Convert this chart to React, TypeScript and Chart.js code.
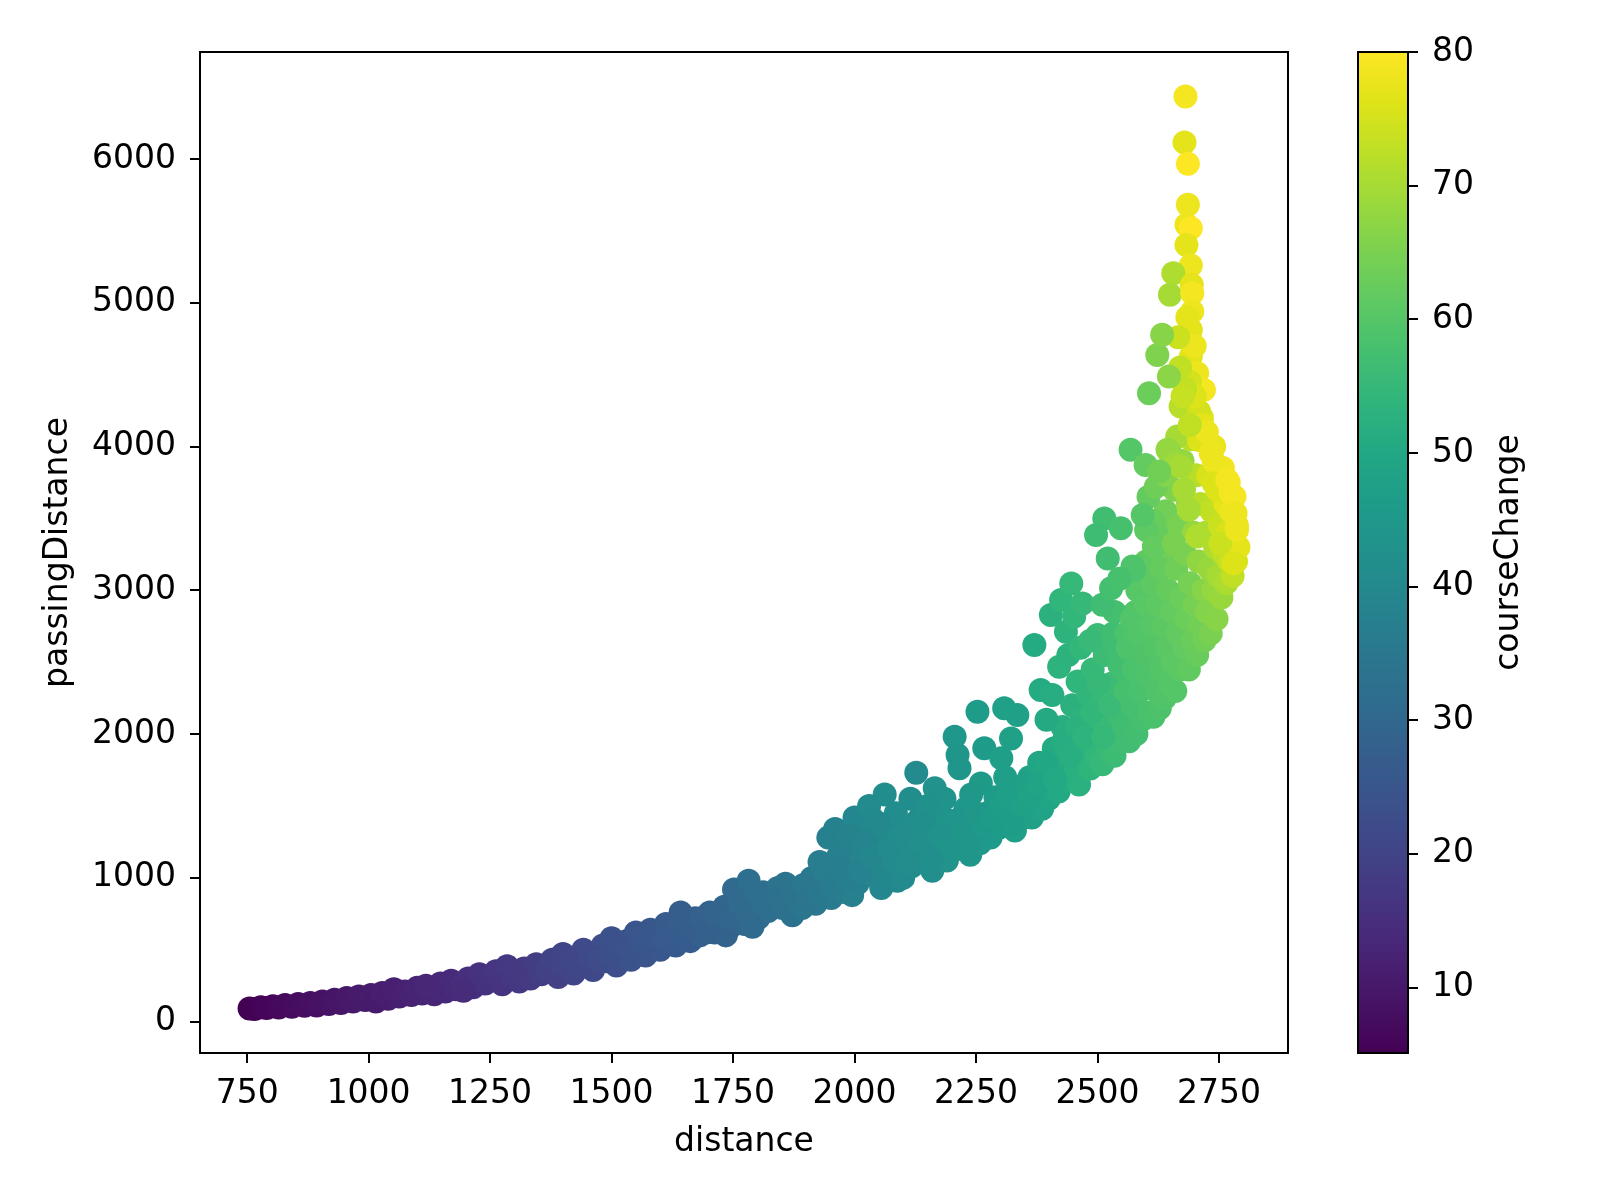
import { useEffect, useRef } from "react"
import Chart from "chart.js/auto"

// values
const distance = [
  755, 765, 778, 790, 803, 815, 828, 842, 855, 868,
  880, 893, 905, 918, 930, 943, 955, 968, 980, 993,
  1005, 1015, 1028, 1040, 1052, 1063, 1075, 1088, 1100, 1110,
  1122, 1135, 1148, 1158, 1170, 1180, 1192, 1205, 1215, 1228,
  1240, 1252, 1262, 1275, 1285, 1296, 1310, 1320, 1333, 1345,
  1355, 1118, 1195, 1300,
  1368, 1378, 1390, 1400, 1410, 1422, 1430, 1442, 1450, 1462,
  1470, 1482, 1490, 1500, 1510, 1520, 1530, 1540, 1550, 1560,
  1570, 1580, 1590, 1600, 1612, 1622, 1632, 1642, 1652, 1662,
  1672, 1682, 1692, 1702, 1712, 1722, 1732, 1742, 1752, 1762,
  1772, 1782, 1792, 1802, 1480, 1575, 1655, 1725,
  1812, 1822, 1832, 1842, 1852, 1862, 1872, 1882, 1892, 1902,
  1912, 1920, 1928, 1936, 1946, 1952, 1960, 1966, 1976, 1982,
  1990, 2000, 2006, 2016, 2030, 2036, 2046, 2062, 2066, 2076,
  2088, 2096, 1995, 2025, 1890, 2055, 2100, 1858, 1735, 1790,
  2108, 2118, 2127, 2130, 2140, 2150, 2160, 2165, 2172, 2182,
  2190, 2200, 2206, 2212, 2216, 2220, 2228, 2238, 2246, 2253,
  2258, 2260, 2267, 2272, 2280, 2290, 2298, 2308, 2310, 2318,
  2322, 2330, 2335, 2340, 2348, 2302, 2185, 2240, 2115, 2150,
  1987, 1966, 2040, 2085, 2120,
  2355, 2360, 2365, 2370, 2372, 2380, 2383, 2386, 2392, 2400,
  2404, 2407, 2410, 2415, 2420, 2421, 2425, 2428, 2432, 2435,
  2438, 2446, 2448, 2450, 2452, 2455, 2459, 2462, 2469, 2470,
  2475, 2480, 2485, 2490, 2492, 2498, 2500, 2505, 2510, 2515,
  2518, 2522, 2528, 2532, 2535, 2540, 2545, 2548, 2350, 2395,
  2440, 2465, 2535, 2510, 2485,
  1395, 1415, 1435, 1455, 1475, 1495, 1515, 1535, 1555, 1565,
  1585, 1605, 1615, 1635, 1645, 1665, 1685, 1695, 1715, 1745,
  1765, 1780, 1795, 1810,
  1845, 1870, 1895, 1905, 1925, 1940, 1955, 1970, 1985, 2010,
  2020, 2035, 2050, 2058, 2070, 2082, 2092, 2105, 2135, 2145,
  2158, 2175, 2195, 2210, 2225, 2235, 2250, 2265, 2285, 2300,
  2315, 2325, 2345,
  2360, 2378, 2395, 2412, 2430, 2445, 2458, 2472, 2488, 2502,
  2512, 2525, 2538, 2552, 2560, 2578, 2590, 2608, 2626, 2636,
  2555, 2558, 2562, 2565, 2570, 2572, 2575, 2580, 2582, 2585,
  2588, 2592, 2595, 2598, 2600, 2603, 2606, 2610, 2612, 2615,
  2618, 2620, 2622, 2625, 2628, 2630, 2632, 2635, 2638, 2640,
  2642, 2645, 2648, 2650, 2652, 2655, 2658, 2660, 2662, 2665,
  2668, 2670, 2672, 2675, 2678, 2680, 2683, 2686, 2688, 2690,
  2692, 2695, 2698, 2700, 2703, 2705, 2708, 2710, 2712, 2715,
  2718, 2720, 2722, 2725, 2728, 2730, 2733, 2735, 2738, 2740,
  2742, 2745, 2748, 2750, 2752, 2755, 2758, 2760, 2763, 2765,
  2768, 2770, 2772, 2775, 2778, 2780, 2782, 2785, 2787, 2790,
  2681, 2679, 2686, 2686, 2683, 2692, 2683, 2692, 2656, 2649,
  2694, 2695, 2695, 2692, 2692, 2705, 2719, 2671, 2709, 2664,
  2709, 2685, 2700, 2690, 2700, 2715, 2725, 2690, 2680, 2666,
  2670, 2675,
  2605, 2620, 2640, 2650, 2615, 2600, 2644, 2660, 2671, 2678,
  2688, 2705, 2753, 2733, 2739, 2739, 2746, 2767, 2774, 2784,
  2787, 2780, 2593, 2576, 2528, 2514, 2548, 2497, 2521, 2568,
  2599, 2627, 2616, 2572, 2657, 2606, 2623, 2633, 2647, 2545,
]

const passingDistance = [
  92, 88, 100, 95, 108, 98, 115, 104, 122, 110,
  130, 112, 140, 122, 152, 130, 165, 140, 175, 150,
  185, 140, 200, 160, 225, 175, 210, 185, 235, 195,
  220, 190, 265, 210, 285, 225, 255, 300, 240, 330,
  265, 300, 350, 260, 385, 310, 280, 370, 300, 400,
  330, 250, 215, 350,
  365, 430, 310, 470, 380, 335, 450, 500, 400, 360,
  480, 530, 420, 580, 390, 480, 560, 430, 620, 510,
  460, 640, 555, 500, 680, 600, 530, 760, 640, 560,
  720, 600, 680, 760, 620, 700, 800, 650, 920, 740,
  680, 980, 820, 720, 450, 560, 700, 630,
  900, 770, 860, 930, 790, 880, 740, 840, 790, 900,
  1000, 820, 1110, 950, 1280, 860, 1340, 1010, 1200, 900,
  1060, 1420, 960, 1140, 1500, 1020, 1260, 1580, 1080, 1350,
  980, 1200, 880, 1300, 870, 930, 1000, 960, 600, 660,
  1250, 1080, 1731, 1400, 1150, 1300, 1050, 1623, 1200, 1420,
  1120, 1310, 1982, 1854, 1762, 1200, 1480, 1160, 1360, 2156,
  1240, 1657, 1901, 1450, 1280, 1560, 1350, 2179, 1700, 1440,
  1970, 1330, 2132, 1600, 1420, 1832, 1550, 1580, 1550, 1500,
  1290, 1147, 1400, 1450, 1350,
  1500, 1700, 1420, 2619, 1600, 1800, 2306, 1480, 1680, 1550,
  2828, 2272, 1900, 1750, 1600, 2469, 2933, 2050, 1850, 2712,
  1680, 3048, 2200, 1980, 2817, 1760, 2365, 1650, 2909, 2100,
  1880, 2280, 1760, 2450, 2000, 1850, 2689, 2200, 1790, 2550,
  2050, 1900, 2350, 2700, 1850, 2150, 2480, 1950, 1650, 2100,
  2550, 2600, 2850, 2900, 2650,
  400, 430, 390, 450, 430, 470, 520, 500, 560, 600,
  600, 580, 620, 680, 590, 650, 720, 620, 750, 720,
  820, 760, 900, 820,
  860, 900, 950, 840, 900, 1050, 940, 1080, 980, 1050,
  1250, 1150, 1380, 1050, 1220, 1120, 1300, 1100, 1250, 1380,
  1150, 1300, 1220, 1400, 1300, 1250, 1450, 1350, 1420, 1500,
  1560, 1380, 1500,
  1560, 1650, 1800, 1680, 1950, 1850, 2050, 1980, 2150, 2350,
  1980, 2200, 2600, 2450, 2700, 2850, 3100, 2950, 3300, 3450,
  2050, 2300, 2600, 1950, 2800, 2200, 2450, 2000, 3000, 2700,
  2300, 2100, 2550, 2900, 3200, 2400, 2150, 2750, 3050, 2120,
  2600, 3400, 2300, 2900, 2180, 2450, 3150, 2750, 2250, 3550,
  2600, 3000, 2350, 3300, 2850, 2500, 3700, 2300, 3150, 2700,
  3450, 2450, 2950, 3900, 2600, 3250, 2800, 3600, 2450, 3050,
  4050, 2650, 3400, 2900, 3800, 2550, 3200, 2750, 3600, 4200,
  3000, 2650, 3400, 2850, 3800, 3150, 2700, 3550, 3000, 4000,
  3300, 2800, 3700, 3100, 3450, 2950, 3850, 3250, 3600, 3050,
  3400, 3750, 3200, 3550, 3100, 3350, 3650, 3200, 3450, 3300,
  6434, 6114, 5966, 5681, 5542, 5518, 5402, 5259, 5205, 5055,
  5124, 5066, 4939, 4811, 4626, 4510, 4394, 4278, 4243, 4069,
  4046, 4900, 4700, 4450, 4350, 4150, 4100, 4150, 4400, 4760,
  4550, 4350,
  3650, 3720, 3800, 3950, 3480, 3420, 3977, 3880, 3860, 3699,
  3560, 3374, 3328, 3954, 3896, 3745, 3699, 3768, 3676, 3536,
  3420, 3189, 3524, 3141, 3014, 3500, 3431, 3385, 3222, 3977,
  3872, 3826, 3305, 3166, 3328, 4371, 4637, 4777, 4487, 3080,
]

const courseChange = [
  5.1, 5.3, 5.6, 5.9, 6.2, 6.5, 6.9, 7.1, 7.5, 7.7,
  8.1, 8.3, 8.7, 8.9, 9.3, 9.5, 9.9, 10.1, 10.4, 10.6,
  10.8, 10.6, 11.2, 11.1, 11.7, 11.6, 12, 12.1, 12.6, 12.5,
  12.9, 13, 13.8, 13.6, 14.3, 14.1, 14.6, 15.2, 14.9, 15.8,
  15.6, 16.2, 16.6, 16.3, 17.3, 17, 17.2, 17.9, 17.9, 18.7,
  18.6, 13.2, 14.4, 17.4,
  19.3, 19.8, 19.4, 20.4, 20.3, 20.4, 21.2, 21.8, 21.4, 21.5,
  22.3, 22.8, 22.5, 23.6, 22.9, 23.6, 24.2, 23.8, 24.8, 24.6,
  24.6, 25.6, 25.3, 25.3, 26.4, 26.2, 26.1, 27.4, 27, 26.8,
  27.8, 27.6, 28.1, 28.7, 28.3, 28.9, 29.6, 29.2, 30.8, 30.1,
  30.2, 31.9, 31.3, 31.2, 22.3, 25.1, 27.3, 28.8,
  32.2, 31.9, 32.5, 33.1, 32.8, 33.4, 33.2, 33.9, 34, 34.8,
  35.6, 34.8, 36.5, 35.8, 37.5, 35.8, 38, 37, 37.8, 36.8,
  37.8, 39.5, 37.8, 38.8, 40.5, 38.8, 39.8, 41.5, 39.8, 40.8,
  40.2, 41, 37.5, 39.6, 34.3, 39.3, 40.6, 33.9, 28.8, 30.8,
  41.3, 41.2, 40.5, 41.8, 41.8, 42.3, 42, 42.8, 42.6, 43.3,
  43, 43.6, 44.5, 44.3, 44.2, 44, 44.6, 44.3, 44.9, 46,
  45, 45.7, 46.3, 45.8, 45.6, 46.4, 46.2, 47.5, 47, 46.8,
  47.5, 46.8, 47.8, 47.5, 47.4, 47.2, 43.5, 45, 41.5, 42.5,
  38.5, 37.5, 40.2, 41.3, 41.6,
  47.8, 48.3, 47.8, 51, 48.5, 49.2, 51, 48.6, 49.3, 49.3,
  53, 51.5, 50.6, 50.4, 50.2, 53.5, 54, 51.8, 51.4, 53.5,
  51.3, 55, 52.8, 52.5, 54.5, 52.4, 54, 52.6, 55, 53.6,
  53.4, 54.2, 53.8, 55, 54.4, 54.5, 56, 55.2, 55, 56.2,
  55.6, 55.6, 56.3, 57, 56.1, 56.6, 57.2, 56.8, 48, 50.5,
  53.3, 54.5, 57.5, 56.8, 55.5,
  20, 20.6, 21, 21.7, 22.1, 22.9, 23.6, 23.9, 24.8, 25.3,
  25.5, 25.9, 26.3, 27, 26.8, 27.4, 28.2, 28, 29, 29.6,
  30.6, 30.9, 32, 32,
  33, 33.8, 34.8, 34.5, 35.2, 36.5, 36.2, 37.4, 37.4, 38.3,
  39.2, 39.3, 40.3, 39.6, 40.4, 40.5, 41.1, 41, 41.9, 42.3,
  42.2, 42.9, 43.3, 44, 44.2, 44.3, 45, 45.3, 45.9, 46.5,
  47, 46.7, 47.5,
  48.2, 48.9, 49.8, 50.2, 51.5, 51.9, 52.9, 53.4, 54.3, 55.2,
  55.1, 55.8, 57, 57.3, 58.6, 59.6, 60.8, 60.8, 62.5, 63.2,
  57, 58, 59, 56.8, 59.5, 57.8, 58.5, 57.3, 60.3, 59.6,
  58.3, 57.8, 59.2, 60.4, 61.4, 58.9, 58.3, 60.2, 61.3, 58.3,
  59.9, 62.4, 59.2, 61.2, 58.8, 59.9, 62.2, 61, 59.4, 63.8,
  60.7, 62.3, 60, 63.6, 62, 60.8, 65.5, 60, 63.5, 61.8,
  64.8, 61, 63, 68, 61.8, 65, 63, 69, 61.6, 64.5,
  72, 62.8, 68, 64.5, 72, 62.5, 67.5, 64, 72, 77,
  66.5, 64, 70.5, 66, 75.5, 68.5, 65, 73, 68, 77.5,
  71, 66.5, 76, 70, 74, 68.5, 78.5, 72.5, 77, 70.5,
  75.5, 78.5, 73.5, 78, 73, 76.5, 79, 75.5, 77.5, 77,
  79, 77, 80, 78, 78, 80, 77, 78, 71, 70,
  77, 79, 78, 77, 77, 78, 79, 72, 75, 70,
  76, 77, 78, 75, 76, 77, 78, 73, 73, 74,
  73, 73.5,
  62, 63.5, 66, 67.5, 62.5, 61.2, 68, 69, 70, 70,
  70, 71, 74, 78, 78, 76, 76, 79, 79, 78,
  78, 76, 60, 59, 57.5, 57, 58, 56.5, 57, 60,
  62, 64, 62, 59, 65, 63, 65.5, 66.5, 67, 58,
]

const xTicks = [750, 1000, 1250, 1500, 1750, 2000, 2250, 2500, 2750]
const yTicks = [0, 1000, 2000, 3000, 4000, 5000, 6000]
const colorTicks = [10, 20, 30, 40, 50, 60, 70, 80]
const colorMin = 5.1
const colorMax = 80

const viridisStops = [
  "#440154", "#471365", "#482475", "#463480", "#414487", "#3b528b", "#355f8d",
  "#2f6c8e", "#2a788e", "#25848e", "#21918c", "#1e9c89", "#22a884", "#2fb47c",
  "#44bf70", "#5ec962", "#7ad151", "#9bd93c", "#bddf26", "#dfe318", "#fde725",
]

const fontFamily = "'DejaVu Sans', sans-serif"
const fontSize = 33

function hexToRgb(hex: string) {
  const n = parseInt(hex.slice(1), 16)
  return [(n >> 16) & 255, (n >> 8) & 255, n & 255]
}

function viridis(value: number) {
  const t = Math.min(1, Math.max(0, (value - colorMin) / (colorMax - colorMin)))
  const pos = t * (viridisStops.length - 1)
  const i = Math.min(viridisStops.length - 2, Math.floor(pos))
  const f = pos - i
  const a = hexToRgb(viridisStops[i])
  const b = hexToRgb(viridisStops[i + 1])
  const c = a.map((v, k) => Math.round(v + (b[k] - v) * f))
  return `rgb(${c[0]}, ${c[1]}, ${c[2]})`
}

const framePlugin = {
  id: "frame",
  afterDraw(chart: any) {
    const { ctx, chartArea: a } = chart
    ctx.save()
    ctx.strokeStyle = "#000"
    ctx.lineWidth = 2
    ctx.strokeRect(a.left, a.top, a.right - a.left, a.bottom - a.top)
    ctx.restore()
  },
}

const colorbarPlugin = {
  id: "colorbar",
  afterDraw(chart: any) {
    const { ctx, chartArea: a, scales } = chart
    ctx.save()
    for (let y = Math.floor(a.top); y < a.bottom; y++) {
      ctx.fillStyle = viridis(scales.y.getValueForPixel(y + 0.5))
      ctx.fillRect(a.left, y, a.right - a.left, 1)
    }
    ctx.strokeStyle = "#000"
    ctx.lineWidth = 2
    ctx.strokeRect(a.left, a.top, a.right - a.left, a.bottom - a.top)
    // colorbar label, reading bottom to top
    ctx.translate(209, (a.top + a.bottom) / 2)
    ctx.rotate(-Math.PI / 2)
    ctx.fillStyle = "#000"
    ctx.font = `${fontSize}px ${fontFamily}`
    ctx.textAlign = "center"
    ctx.textBaseline = "middle"
    ctx.fillText("courseChange", 0, 0)
    ctx.restore()
  },
}

const tickGrid = { drawOnChartArea: false, color: "#000", lineWidth: 2, tickLength: 10 }
const tickFont = { family: fontFamily, size: fontSize }

function ScatterPlot() {
  const chartRef = useRef<HTMLCanvasElement>(null)

  useEffect(() => {
    if (!chartRef.current) return
    const chart = new Chart(chartRef.current, {
      type: "scatter",
      data: {
        datasets: [
          {
            data: distance.map((d, i) => ({ x: d, y: passingDistance[i] })),
            pointBackgroundColor: courseChange.map(viridis),
            pointBorderWidth: 0,
            pointRadius: 12,
            pointHoverRadius: 12,
          },
        ],
      },
      options: {
        responsive: true,
        maintainAspectRatio: false,
        animation: false,
        events: [],
        layout: { padding: { left: 0, top: 52, right: 9, bottom: 0 } },
        plugins: { legend: { display: false }, tooltip: { enabled: false } },
        scales: {
          x: {
            type: "linear",
            min: 653,
            max: 2892,
            afterBuildTicks: (axis: any) => {
              axis.ticks = xTicks.map((value) => ({ value }))
            },
            afterFit: (axis: any) => {
              axis.height = 147
            },
            grid: tickGrid,
            border: { display: false },
            ticks: {
              color: "#000",
              font: tickFont,
              padding: 12,
              maxRotation: 0,
              autoSkip: false,
              callback: (v: any) => String(v),
            },
            title: {
              display: true,
              text: "distance",
              color: "#000",
              font: tickFont,
              padding: { top: 0, bottom: 38 },
            },
          },
          y: {
            type: "linear",
            min: -218,
            max: 6744,
            afterBuildTicks: (axis: any) => {
              axis.ticks = yTicks.map((value) => ({ value }))
            },
            afterFit: (axis: any) => {
              axis.width = 200
            },
            grid: tickGrid,
            border: { display: false },
            ticks: {
              color: "#000",
              font: tickFont,
              padding: 14,
              autoSkip: false,
              callback: (v: any) => String(v),
            },
            title: {
              display: true,
              text: "passingDistance",
              color: "#000",
              font: tickFont,
              padding: { top: 39, bottom: 0 },
            },
          },
        },
      },
      plugins: [framePlugin],
    })

    return () => chart.destroy()
  }, [])

  return <canvas ref={chartRef}></canvas>
}

function ColorBar() {
  const chartRef = useRef<HTMLCanvasElement>(null)

  useEffect(() => {
    if (!chartRef.current) return
    const chart = new Chart(chartRef.current, {
      type: "scatter",
      data: { datasets: [] },
      options: {
        responsive: true,
        maintainAspectRatio: false,
        animation: false,
        events: [],
        layout: { padding: { left: 58, top: 52, right: 0, bottom: 147 } },
        plugins: { legend: { display: false }, tooltip: { enabled: false } },
        scales: {
          x: { display: false },
          y: {
            type: "linear",
            position: "right",
            min: colorMin,
            max: colorMax,
            afterBuildTicks: (axis: any) => {
              axis.ticks = colorTicks.map((value) => ({ value }))
            },
            afterFit: (axis: any) => {
              axis.width = 192
            },
            grid: tickGrid,
            border: { display: false },
            ticks: {
              color: "#000",
              font: tickFont,
              padding: 14,
              autoSkip: false,
              callback: (v: any) => String(v),
            },
          },
        },
      },
      plugins: [colorbarPlugin],
    })

    return () => chart.destroy()
  }, [])

  return <canvas ref={chartRef}></canvas>
}

export default function App() {
  return (
    <div style={{ position: "absolute", left: 0, top: 0, width: 1600, height: 1200, background: "#fff" }}>
      <div style={{ position: "absolute", left: 0, top: 0, width: 1300, height: 1200 }}>
        <ScatterPlot />
      </div>
      <div style={{ position: "absolute", left: 1300, top: 0, width: 300, height: 1200 }}>
        <ColorBar />
      </div>
    </div>
  )
}
